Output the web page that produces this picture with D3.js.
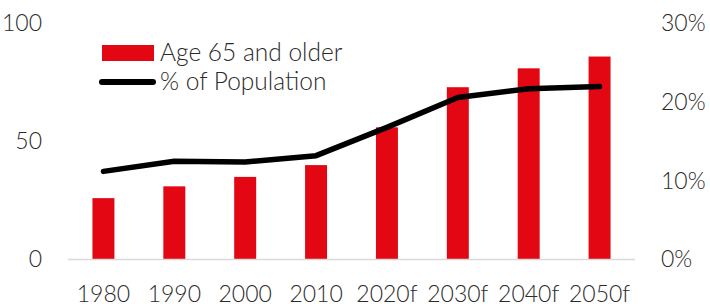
<!DOCTYPE html>
<html>
<head>
<meta charset="utf-8">
<script src="https://cdn.jsdelivr.net/npm/d3@7"></script>
<style>
  body { margin: 0; background: #fff; }
  svg text { font-family: "Source Sans Pro", Lato, "Open Sans", sans-serif; font-weight: 300; fill: #2b2b2b; }
</style>
</head>
<body>
<svg id="chart" width="710" height="307"></svg>
<script>
// donnees
const years = ["1980", "1990", "2000", "2010", "2020f", "2030f", "2040f", "2050f"];
const age65 = [26, 31, 35, 40, 56, 73, 81, 86];
const popShare = [0.112, 0.125, 0.124, 0.132, 0.168, 0.206, 0.217, 0.220];
const leftTicks = [0, 50, 100];
const rightTicks = [0, 0.1, 0.2, 0.3];

const plot = { left: 68, right: 635, top: 23.5, bottom: 259.5 };

const svg = d3.select("#chart");

const x = d3.scaleBand()
  .domain(years)
  .range([plot.left, plot.right])
  .paddingInner(0.69)
  .paddingOuter(0.345);

const y = d3.scaleLinear().domain([0, 100]).range([plot.bottom, plot.top]);
const y2 = d3.scaleLinear().domain([0, 0.3]).range([plot.bottom, plot.top]);

// barres
svg.append("g")
  .selectAll("rect")
  .data(years)
  .join("rect")
  .attr("x", d => x(d))
  .attr("width", x.bandwidth())
  .attr("y", (d, i) => y(age65[i]))
  .attr("height", (d, i) => y(0) - y(age65[i]))
  .attr("fill", "#e30613");

// ligne de base
svg.append("line")
  .attr("x1", plot.left).attr("x2", plot.right)
  .attr("y1", y(0)).attr("y2", y(0))
  .attr("stroke", "#d9d9d9").attr("stroke-width", 1.5);

// courbe % population
const line = d3.line()
  .x((d, i) => x(years[i]) + x.bandwidth() / 2)
  .y(d => y2(d));

svg.append("path")
  .datum(popShare)
  .attr("d", line)
  .attr("fill", "none")
  .attr("stroke", "#000")
  .attr("stroke-width", 5.5)
  .attr("stroke-linecap", "round")
  .attr("stroke-linejoin", "round");

// axes
const tickFont = 23;
const legendFont = 24.5;

const axL = svg.append("g")
  .attr("transform", `translate(${plot.left - 26},0)`)
  .call(d3.axisLeft(y).tickValues(leftTicks).tickSize(0).tickPadding(0));
axL.select(".domain").remove();

const axR = svg.append("g")
  .attr("transform", `translate(661,0)`)
  .call(d3.axisRight(y2).tickValues(rightTicks).tickSize(0).tickPadding(0).tickFormat(d3.format(".0%")));
axR.select(".domain").remove();

const axB = svg.append("g")
  .attr("transform", `translate(0,${plot.bottom + 26})`)
  .call(d3.axisBottom(x).tickSize(0).tickPadding(0));
axB.select(".domain").remove();

svg.selectAll("g").attr("font-family", null).attr("font-size", null);
svg.selectAll(".tick text").attr("font-size", tickFont);

// legende
const legend = svg.append("g");
legend.append("rect")
  .attr("x", 102).attr("y", 45).attr("width", 52).attr("height", 16)
  .attr("fill", "#e30613");
legend.append("text")
  .attr("x", 160).attr("y", 61)
  .attr("font-size", legendFont)
  .text("Age 65 and older");
legend.append("line")
  .attr("x1", 102).attr("x2", 153).attr("y1", 82).attr("y2", 82)
  .attr("stroke", "#000").attr("stroke-width", 6)
  .attr("stroke-linecap", "round");
legend.append("text")
  .attr("x", 160).attr("y", 90)
  .attr("font-size", legendFont)
  .text("% of Population");
</script>
</body>
</html>
